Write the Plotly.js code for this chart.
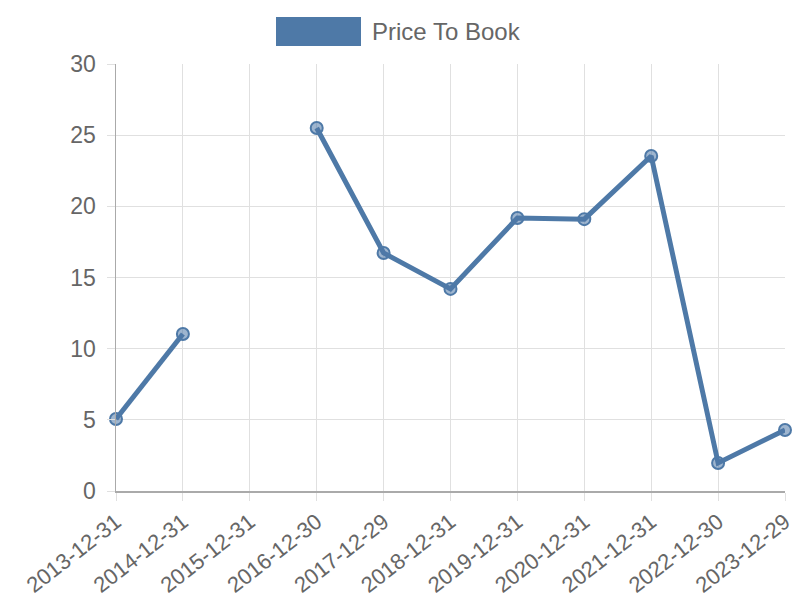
<!DOCTYPE html>
<html>
<head>
<meta charset="utf-8">
<script src="https://cdn.plot.ly/plotly-3.0.1.min.js"></script>
<style>html,body{margin:0;padding:0;background:#fff;}#chart{width:800px;height:600px;}</style>
</head>
<body>
<div id="chart"></div>
<script>
const dates = ["2013-12-31","2014-12-31","2015-12-31","2016-12-30","2017-12-29","2018-12-31","2019-12-31","2020-12-31","2021-12-31","2022-12-30","2023-12-29"];
const priceToBook = [5.06, 11.03, null, 25.5, 16.72, 14.2, 19.18, 19.1, 23.54, 1.97, 4.29];
const seriesName = "Price To Book";
const yTicks = [0,5,10,15,20,25,30];

const trace = {
  x: dates, y: priceToBook, type: "scatter", mode: "lines+markers",
  name: seriesName, connectgaps: false, showlegend: false,
  line: {color: "#4e79a7", width: 5},
  marker: {size: 12, color: "rgba(78,121,167,0.55)", line: {color: "#4e79a7", width: 2}},
  cliponaxis: false
};
const layout = {
  width: 800, height: 600,
  margin: {l: 116, r: 15, t: 64, b: 109},
  paper_bgcolor: "#fff", plot_bgcolor: "#fff",
  font: {family: "Liberation Sans, Arial, sans-serif", color: "#666", size: 22},
  showlegend: false,
  xaxis: {
    type: "category", categoryorder: "array", categoryarray: dates,
    range: [0, dates.length - 1],
    showgrid: true, gridcolor: "#e0e0e0", gridwidth: 1,
    showline: true, linecolor: "#aaa", linewidth: 1.5,
    ticks: "outside", ticklen: 8, tickcolor: "#e0e0e0",
    tickangle: -38, tickfont: {size: 22, color: "#666"},
    zeroline: false
  },
  yaxis: {
    range: [0, 30], tickvals: yTicks,
    showgrid: true, gridcolor: "#e0e0e0", gridwidth: 1,
    showline: true, linecolor: "#aaa", linewidth: 1.5,
    ticks: "outside", ticklen: 8, tickcolor: "#e0e0e0",
    ticklabelstandoff: 6,
    tickfont: {size: 23, color: "#666"},
    zeroline: false
  },
  shapes: [{type: "rect", xref: "paper", yref: "paper", x0: (276-116)/669, x1: (361-116)/669, y0: 1 + (64-46)/427, y1: 1 + (64-17)/427, fillcolor: "#4e79a7", line: {width: 0}}],
  annotations: [{xref: "paper", yref: "paper", x: (370-116)/669, y: 1 + (64-32)/427, xanchor: "left", yanchor: "middle", text: seriesName, showarrow: false, font: {size: 24, color: "#666"}}]
};
Plotly.newPlot("chart", [trace], layout, {displayModeBar: false, staticPlot: true});
</script>
</body>
</html>
